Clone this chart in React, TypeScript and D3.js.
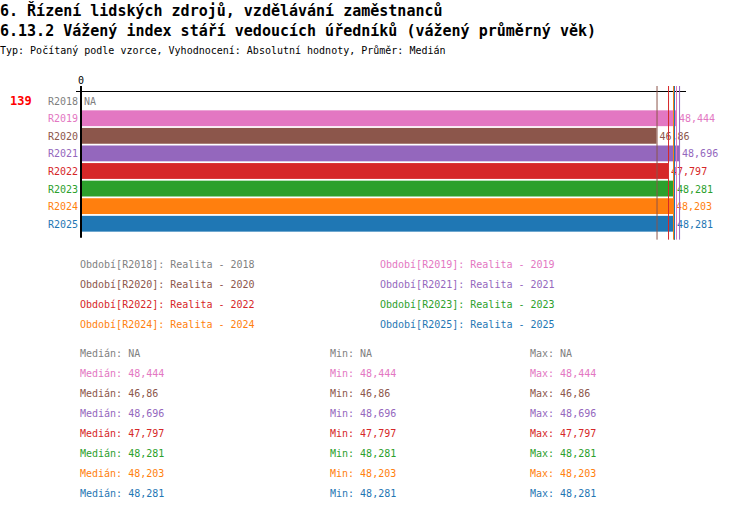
import React from 'react';
import * as d3 from 'd3';

// data
const periods = ['R2018', 'R2019', 'R2020', 'R2021', 'R2022', 'R2023', 'R2024', 'R2025'];
const values: (number | null)[] = [null, 48.444, 46.86, 48.696, 47.797, 48.281, 48.203, 48.281];
const labels = ['NA', '48,444', '46,86', '48,696', '47,797', '48,281', '48,203', '48,281'];
const legendTexts = [
  'Období[R2018]: Realita - 2018',
  'Období[R2019]: Realita - 2019',
  'Období[R2020]: Realita - 2020',
  'Období[R2021]: Realita - 2021',
  'Období[R2022]: Realita - 2022',
  'Období[R2023]: Realita - 2023',
  'Období[R2024]: Realita - 2024',
  'Období[R2025]: Realita - 2025',
];
const medians = ['NA', '48,444', '46,86', '48,696', '47,797', '48,281', '48,203', '48,281'];
const mins = ['NA', '48,444', '46,86', '48,696', '47,797', '48,281', '48,203', '48,281'];
const maxs = ['NA', '48,444', '46,86', '48,696', '47,797', '48,281', '48,203', '48,281'];
const colors = ['#7f7f7f', '#e377c2', '#8c564b', '#9467bd', '#d62728', '#2ca02c', '#ff7f0e', '#1f77b4'];

const title1 = '6. Řízení lidských zdrojů, vzdělávání zaměstnanců';
const title2 = '6.13.2 Vážený index stáří vedoucích úředníků (vážený průměrný věk)';
const subtitle = 'Typ: Počítaný podle vzorce, Vyhodnocení: Absolutní hodnoty, Průměr: Medián';

const font = '"DejaVu Sans Mono", monospace';

export default function App() {
  const width = 750;
  const height = 512;

  const x = d3.scaleLinear().domain([0, 49.26]).range([81, 686]);
  const y = d3.scaleBand<string>().domain(periods).range([91, 91 + 8 * 17.8]).padding(0.1);

  const lastBottom = (y(periods[periods.length - 1]) ?? 0) + y.bandwidth();

  return (
    <svg width={width} height={height} style={{ position: 'absolute', left: 0, top: 0, background: '#fff' }}
      fontFamily={font}>
      <text x={0} y={16} fontSize={15} fontWeight="bold" fill="#000">{title1}</text>
      <text x={0} y={36} fontSize={15} fontWeight="bold" fill="#000">{title2}</text>
      <text x={0} y={54} fontSize={10} fill="#000">{subtitle}</text>

      {/* top axis */}
      <line x1={76} x2={x.range()[1]} y1={91.5} y2={91.5} stroke="#000" strokeWidth={1} />
      <text x={x(0)} y={84} fontSize={10} textAnchor="middle" fill="#000">0</text>

      <text x={10} y={105} fontSize={12} fontWeight="bold" fill="#ff0000">139</text>

      {/* bars */}
      {periods.map((p, i) => {
        const v = values[i];
        const yy = y(p) ?? 0;
        const cy = yy + y.bandwidth() / 2;
        return (
          <g key={p}>
            {v !== null && (
              <rect x={x(0)} y={yy} width={x(v) - x(0)} height={y.bandwidth()} fill={colors[i]} />
            )}
            <text x={x(0) - 3} y={cy + 4} fontSize={10} textAnchor="end" fill={colors[i]}>{p}</text>
            <text x={(v === null ? x(0) : x(v)) + 3} y={cy + 4} fontSize={10} fill={colors[i]}>{labels[i]}</text>
          </g>
        );
      })}

      {/* median lines */}
      {periods.map((p, i) => {
        const v = values[i];
        if (v === null) return null;
        return (
          <line key={'m' + p} x1={x(v) + 0.5} x2={x(v) + 0.5} y1={86} y2={lastBottom + 8}
            stroke={colors[i]} strokeWidth={1} />
        );
      })}

      {/* zero line */}
      <line x1={x(0)} x2={x(0)} y1={86} y2={lastBottom + 6} stroke="#000" strokeWidth={2} />

      {/* legend */}
      {legendTexts.map((t, i) => (
        <text key={t} x={i % 2 === 0 ? 80 : 380} y={268 + Math.floor(i / 2) * 20} fontSize={10} fill={colors[i]}>{t}</text>
      ))}

      {/* stats */}
      {periods.map((p, i) => (
        <g key={'s' + p} fontSize={10} fill={colors[i]}>
          <text x={80} y={357 + i * 20}>{'Medián: ' + medians[i]}</text>
          <text x={330} y={357 + i * 20}>{'Min: ' + mins[i]}</text>
          <text x={530} y={357 + i * 20}>{'Max: ' + maxs[i]}</text>
        </g>
      ))}
    </svg>
  );
}
